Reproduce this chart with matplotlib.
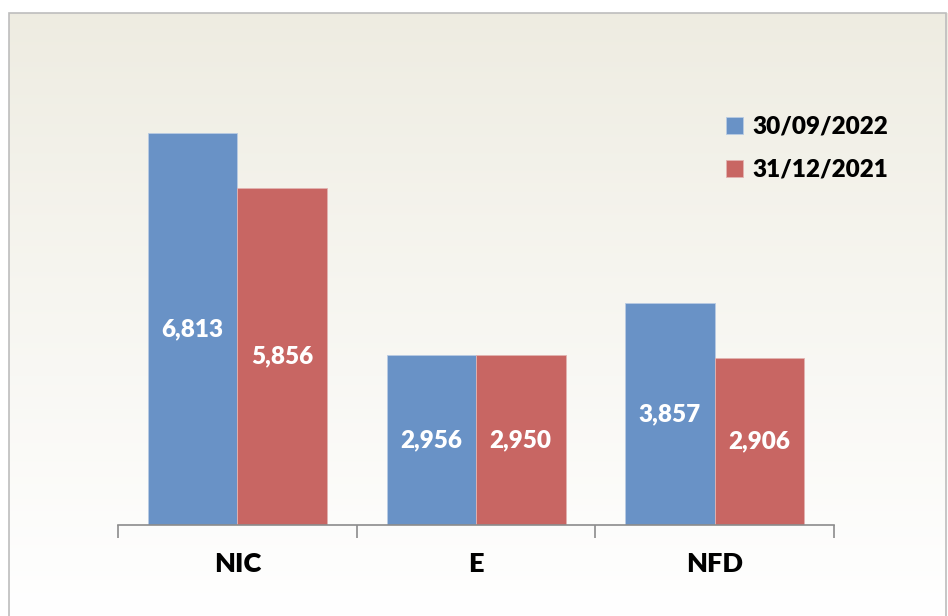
import numpy as np
import matplotlib.pyplot as plt
from matplotlib.patches import Rectangle

# chart data
categories = ['NIC', 'E', 'NFD']
series_names = ['30/09/2022', '31/12/2021']
values_2022 = [6813, 2956, 3857]
values_2021 = [5856, 2950, 2906]

BLUE = '#6992C6'
RED = '#C86663'
FONT = ['Lato', 'DejaVu Sans']

plt.rcParams['font.family'] = FONT

fig = plt.figure(figsize=(9.48, 6.16), dpi=100)

# background gradient panel with thin border
bg = fig.add_axes([0, 0, 1, 1], zorder=0)
grad = np.linspace(0, 1, 256).reshape(-1, 1)
top = np.array([0.933, 0.925, 0.882])
bottom = np.array([1.0, 1.0, 1.0])
img = top + (bottom - top) * grad[:, :, None] ** 0.9
x0, y0 = 9 / 948, 1 - 13 / 616
bg.imshow(img, extent=[x0, 1, 0, y0], aspect='auto')
bg.add_patch(Rectangle((x0, -0.01), 1 - x0 - 2 / 948, y0 + 0.01, fill=False,
                       edgecolor='#BDBDBD', linewidth=1.2))
bg.set_xlim(0, 1)
bg.set_ylim(0, 1)
bg.axis('off')

ax = fig.add_axes([118 / 948, 91 / 616, 716 / 948, 460 / 616], zorder=1)
ax.patch.set_alpha(0)

x = np.arange(len(categories))
w = 0.375
b1 = ax.bar(x - w / 2, values_2022, w, color=BLUE, edgecolor='#B9CBE3',
            linewidth=0.6, label=series_names[0])
b2 = ax.bar(x + w / 2, values_2021, w, color=RED, edgecolor='#E2B3B1',
            linewidth=0.6, label=series_names[1])

for bars, vals in ((b1, values_2022), (b2, values_2021)):
    for bar, v in zip(bars, vals):
        ax.text(bar.get_x() + bar.get_width() / 2, v / 2, f'{v:,}',
                ha='center', va='center', color='white', fontsize=17.5,
                fontweight='heavy')

ax.set_xlim(-0.5, len(categories) - 0.5)
ax.set_ylim(0, 8000)
ax.set_yticks([])
for s in ['top', 'right', 'left']:
    ax.spines[s].set_visible(False)
ax.spines['bottom'].set_color('#8C8C8C')
ax.spines['bottom'].set_linewidth(1.2)

ax.set_xticks(np.arange(len(categories) + 1) - 0.5, minor=False)
ax.set_xticklabels([])
ax.tick_params(axis='x', length=9, width=1.2, color='#8C8C8C', direction='out')
for xi, c in zip(x, categories):
    ax.text(xi, -0.085, c, transform=ax.get_xaxis_transform(), ha='center',
            va='center', fontsize=19.5, fontweight='heavy', color='black')

leg = ax.legend(loc='upper left', bbox_to_anchor=(0.818, 0.937), frameon=False,
                prop={'size': 17.5, 'weight': 'heavy'}, handlelength=0.7,
                handleheight=0.7, handletextpad=0.4, labelspacing=0.85)

fig.savefig('out.png', dpi=100)
